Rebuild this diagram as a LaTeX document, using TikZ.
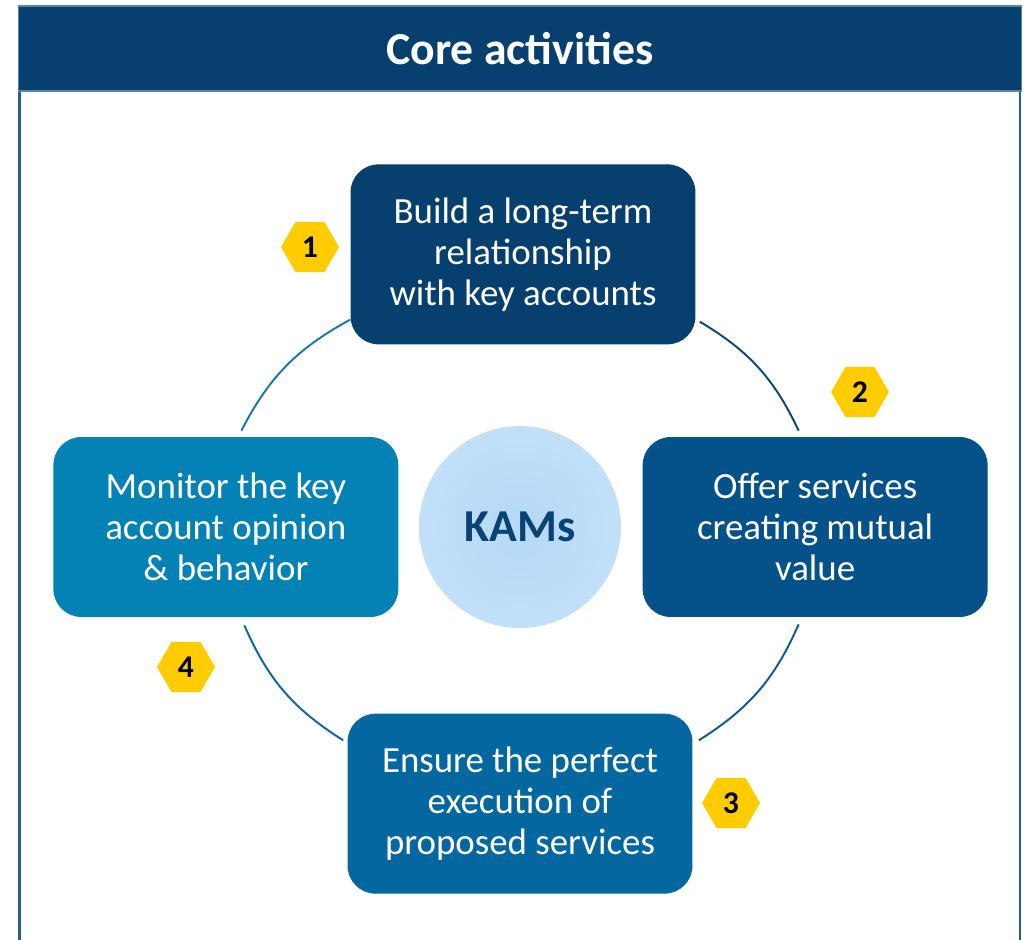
\documentclass[tikz,border=0pt]{standalone}
\usepackage{fontspec}
\setmainfont{Carlito}
\usetikzlibrary{positioning, shapes.geometric, calc}
\definecolor{navy}{HTML}{07406F}
\definecolor{headline}{HTML}{5B84AC}
\definecolor{frameblue}{HTML}{2C5C8C}
\definecolor{boxone}{HTML}{07406F}
\definecolor{boxtwo}{HTML}{05518A}
\definecolor{boxthree}{HTML}{0567A0}
\definecolor{boxfour}{HTML}{0481B5}
\definecolor{kamsin}{HTML}{B4D8F6}
\definecolor{kamsout}{HTML}{C2E0F8}
\definecolor{kamstext}{HTML}{0A4272}
\definecolor{gold}{HTML}{FFCC00}
\definecolor{arcone}{HTML}{1B76AD}
\definecolor{arctwo}{HTML}{0C4778}
\definecolor{arcthree}{HTML}{0A5B93}
\definecolor{arcfour}{HTML}{0B65A1}

\begin{document}
\begin{tikzpicture}[x=0.02cm, y=-0.02cm,
  box/.style={rounded corners=0.56cm, minimum width=6.9cm, minimum height=3.6cm, align=center, text=white, font=\fontsize{21}{23.3}\selectfont},
  badge/.style={regular polygon, regular polygon sides=6, fill=gold, minimum size=1.16cm, inner sep=0pt, font=\bfseries\fontsize{18}{18}\selectfont},
  ring/.style={line width=1.1pt},
  frameline/.style={draw=frameblue, line width=1.4pt}]
\useasboundingbox (0,0) rectangle (1025,940);
% header and frame
\node[fill=navy, draw=headline, line width=0.6pt, minimum width=20.08cm, minimum height=1.7cm, text=white, font=\bfseries\fontsize{26}{30}\selectfont] (title) at (520,48.5) {Core activities};
\coordinate (frameL) at (19.5,940);
\coordinate (frameR) at (1020,940);
\draw[frameline] (title.south west -| frameL) -- (frameL);
\draw[frameline] (title.south east -| frameR) -- (frameR);
% centre
\node[circle, minimum size=4.04cm, shading=radial, inner color=kamsin, outer color=kamsout, text=kamstext, font=\bfseries\fontsize{26}{30}\selectfont] (kams) at (520,527) {KAMs};
% activities
\node[box, fill=boxone, above=1.62cm of kams, xshift=0.06cm] (build) {Build a long-term\\relationship\\with key accounts};
\node[box, fill=boxtwo, right=0.42cm of kams] (offer) {Offer services\\creating mutual\\value};
\node[box, fill=boxthree, below=1.7cm of kams] (ensure) {Ensure the perfect\\execution of\\proposed services};
\node[box, fill=boxfour, left=0.4cm of kams] (monitor) {Monitor the key\\account opinion\\\& behavior};
% steps
\node[badge] (step1) at (310,247) {1};
\node[badge] (step2) at (860,392) {2};
\node[badge] (step3) at (731,803) {3};
\node[badge] (step4) at (186,667) {4};
% cycle
\draw[ring, draw=arcone] ($(build.south west)+(0,-25)$) to[bend right=17] ($(monitor.north)+(15.5,-6)$);
\draw[ring, draw=arcfour] ($(monitor.south)+(18.5,8)$) to[bend right=17] ($(ensure.north west)+(-4,27)$);
\draw[ring, draw=arcthree] ($(ensure.north east)+(6,27)$) to[bend right=17] ($(offer.south)+(-16.5,7)$);
\draw[ring, draw=arctwo] ($(offer.north)+(-16.5,-6)$) to[bend right=17] ($(build.south east)+(4,-23)$);
\end{tikzpicture}
\end{document}
